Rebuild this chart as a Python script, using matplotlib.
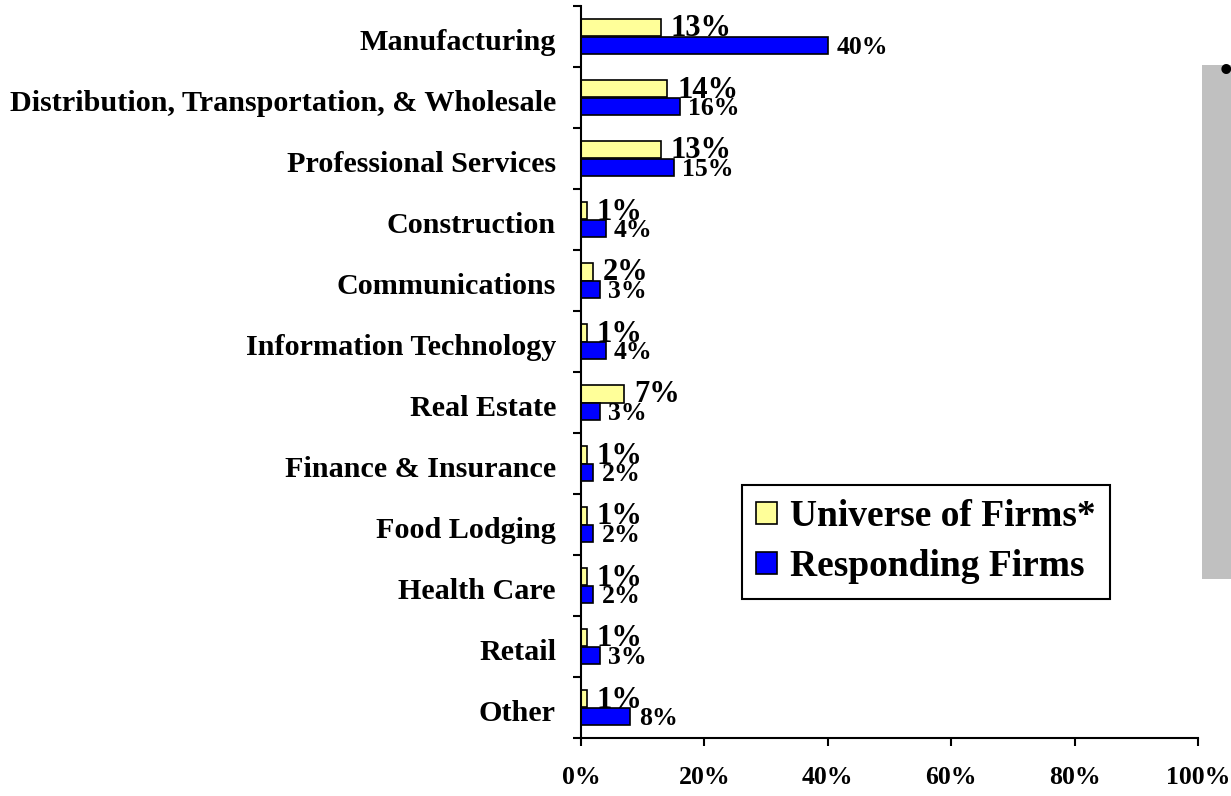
import numpy as np
import matplotlib.pyplot as plt
import matplotlib.ticker as ticker
from matplotlib.patches import Rectangle
from matplotlib.transforms import ScaledTranslation

# данные
categories = ['Manufacturing', 'Distribution, Transportation, & Wholesale',
              'Professional Services', 'Construction', 'Communications',
              'Information Technology', 'Real Estate', 'Finance & Insurance',
              'Food Lodging', 'Health Care', 'Retail', 'Other']
universe = [13, 14, 13, 1, 2, 1, 7, 1, 1, 1, 1, 1]
responding = [40, 16, 15, 4, 3, 4, 3, 2, 2, 2, 3, 8]
xticks = [0, 20, 40, 60, 80, 100]

plt.rcParams['font.family'] = ['Liberation Serif', 'DejaVu Serif']
plt.rcParams['font.weight'] = 'bold'

fig = plt.figure(figsize=(12.31, 7.96), dpi=100)
ax = fig.add_axes([581 / 1231, 1 - 738 / 796, 617 / 1231, 732 / 796])

y = np.arange(len(categories))
h = 0.28
y_u = y - 0.14
y_r = y + 0.15
ax.barh(y_u, universe, height=h, color='#FFFF99', edgecolor='black', linewidth=1.2,
        label='Universe of Firms*')
ax.barh(y_r, responding, height=h, color='#0000FF', edgecolor='black', linewidth=1.2,
        label='Responding Firms')

# подписи значений (базовая линия по нижнему краю столбика)
for i in range(len(categories)):
    ax.annotate(f'{universe[i]}%', xy=(universe[i], y_u[i] + h / 2), xytext=(7, 0),
                textcoords='offset points', va='baseline', ha='left', fontsize=22,
                fontweight='bold')
    ax.annotate(f'{responding[i]}%', xy=(responding[i], y_r[i] + h / 2), xytext=(6, 0),
                textcoords='offset points', va='baseline', ha='left', fontsize=18.5,
                fontweight='bold')

ax.set_xlim(0, 100)
ax.set_ylim(len(categories) - 0.5, -0.5)

ax.set_xticks(xticks)
ax.xaxis.set_major_formatter(ticker.FuncFormatter(lambda v, p: f'{v:.0f}%'))
ax.set_yticks(y)
ax.set_yticklabels(categories)
ax.yaxis.set_minor_locator(ticker.FixedLocator(np.arange(-0.5, len(categories), 1)))

ax.tick_params(axis='y', which='major', length=0, pad=18, labelsize=21.7)
ax.tick_params(axis='y', which='minor', length=6, width=1.5, direction='out')
ax.tick_params(axis='x', length=6, width=1.5, direction='out', pad=14, labelsize=18.5)

# подписи категорий чуть ниже центра
for lbl in ax.get_yticklabels():
    lbl.set_transform(lbl.get_transform() + ScaledTranslation(0, -2.5 / 72, fig.dpi_scale_trans))

for s in ['top', 'right']:
    ax.spines[s].set_visible(False)
for s in ['left', 'bottom']:
    ax.spines[s].set_linewidth(1.5)

leg = ax.legend(loc='upper left', bbox_to_anchor=(0.261, 0.3456), fontsize=27,
                fancybox=False, framealpha=1, edgecolor='black',
                handlelength=0.55, handleheight=0.55, handletextpad=0.35,
                borderpad=0.38, labelspacing=0.4, borderaxespad=0)
leg.get_frame().set_linewidth(1.5)

# серый блок справа
fig.add_artist(Rectangle((1202 / 1231, 1 - 579 / 796), 40 / 1231, 514 / 796,
                         transform=fig.transFigure, facecolor='#C0C0C0', edgecolor='none'))
fig.text(1226 / 1231, 1 - 73 / 796, '\u2022', fontsize=26, ha='center', va='center')

fig.savefig('out.png', dpi=100)
